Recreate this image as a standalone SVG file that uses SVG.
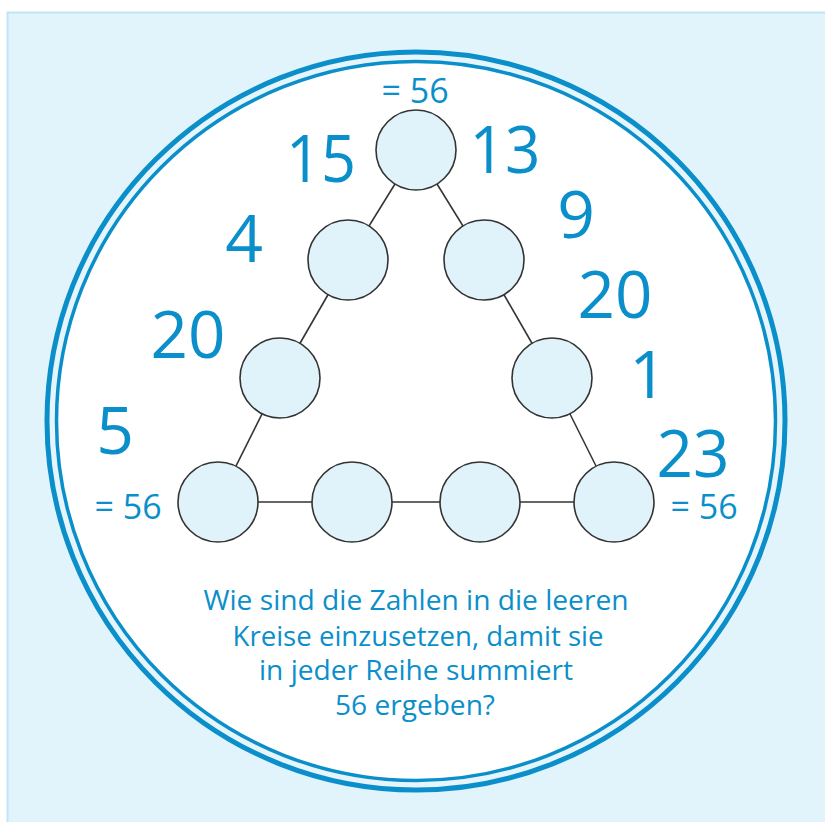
<svg xmlns="http://www.w3.org/2000/svg" width="825" height="822" viewBox="0 0 825 822">
<style>
.num{font-family:"Open Sans","Liberation Sans",sans-serif;font-size:66px;fill:#0b8fca;text-anchor:middle}
.sum{font-family:"Open Sans","Liberation Sans",sans-serif;font-size:34px;fill:#0b8fca;text-anchor:middle}
.q{font-family:"Open Sans","Liberation Sans",sans-serif;font-size:28px;fill:#0b8fca;text-anchor:middle}
.node circle{fill:#e0f2fa;stroke:#333;stroke-width:1.6}
#connectors line{stroke:#333;stroke-width:1.6}
</style>
<rect x="7.5" y="12.5" width="830" height="820" fill="#e1f3fb" stroke="#c3e4f5" stroke-width="2"/>
<circle cx="416" cy="421" r="369" fill="#e6f5fc" stroke="#0b8fca" stroke-width="5"/>
<circle cx="416" cy="421" r="359.5" fill="#ffffff" stroke="#0b8fca" stroke-width="3.5"/>
<g id="connectors">
<line x1="416" y1="150" x2="348" y2="260"/>
<line x1="348" y1="260" x2="280" y2="378"/>
<line x1="280" y1="378" x2="218" y2="502"/>
<line x1="416" y1="150" x2="484" y2="260"/>
<line x1="484" y1="260" x2="552" y2="378"/>
<line x1="552" y1="378" x2="614" y2="502"/>
<line x1="218" y1="502" x2="614" y2="502"/>
</g>
<g id="n-top" class="node"><circle cx="416" cy="150" r="40"/></g>
<g id="n-l2" class="node"><circle cx="348" cy="260" r="40"/></g>
<g id="n-r2" class="node"><circle cx="484" cy="260" r="40"/></g>
<g id="n-l3" class="node"><circle cx="280" cy="378" r="40"/></g>
<g id="n-r3" class="node"><circle cx="552" cy="378" r="40"/></g>
<g id="n-bl" class="node"><circle cx="218" cy="502" r="40"/></g>
<g id="n-b2" class="node"><circle cx="352" cy="502" r="40"/></g>
<g id="n-b3" class="node"><circle cx="480" cy="502" r="40"/></g>
<g id="n-br" class="node"><circle cx="614" cy="502" r="40"/></g>
<g id="numbers">
<text class="num" x="321" y="182" textLength="70" lengthAdjust="spacingAndGlyphs">15</text>
<text class="num" x="505" y="173" textLength="71" lengthAdjust="spacingAndGlyphs">13</text>
<text class="num" x="244" y="262">4</text>
<text class="num" x="188" y="358" textLength="75" lengthAdjust="spacingAndGlyphs">20</text>
<text class="num" x="115" y="454">5</text>
<text class="num" x="576" y="238">9</text>
<text class="num" x="615" y="318" textLength="75" lengthAdjust="spacingAndGlyphs">20</text>
<text class="num" x="648" y="398">1</text>
<text class="num" x="693" y="477" textLength="73" lengthAdjust="spacingAndGlyphs">23</text>
</g>
<g id="sums">
<text class="sum" x="415" y="103">= 56</text>
<text class="sum" x="128" y="519">= 56</text>
<text class="sum" x="704" y="519">= 56</text>
</g>
<g id="question">
<text class="q" x="416" y="610" textLength="425" lengthAdjust="spacingAndGlyphs">Wie sind die Zahlen in die leeren</text>
<text class="q" x="418" y="645.5" textLength="371" lengthAdjust="spacingAndGlyphs">Kreise einzusetzen, damit sie</text>
<text class="q" x="416" y="680" textLength="314" lengthAdjust="spacingAndGlyphs">in jeder Reihe summiert</text>
<text class="q" x="415" y="715" textLength="160" lengthAdjust="spacingAndGlyphs">56 ergeben?</text>
</g>
</svg>
